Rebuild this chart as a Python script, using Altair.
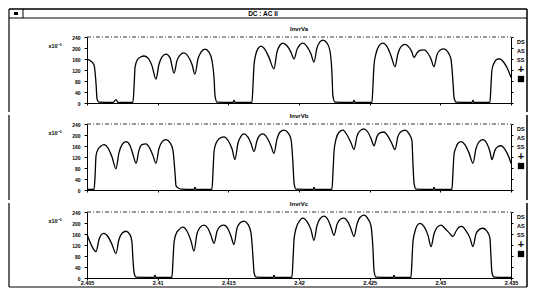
import altair as alt
import pandas as pd

WINDOW_TITLE = "DC : AC II"
PANEL_TITLES = ["InvrVa", "InvrVb", "InvrVc"]
SCALE_NOTE = "x10\u207b\u00b3"
X_TICKS = [2.405, 2.41, 2.415, 2.42, 2.425, 2.43, 2.435]
Y_TICKS = [0, 40, 80, 120, 160, 200, 240]
SIDE_LABELS = ["DS", "AS", "SS"]
T0_MS = 2405.0  # time axis origin, ms

# ---- InvrVa : time offset (ms from 2.405 s) and value (x10^-3)
VA_MS = [0.00, 0.28, 0.50, 0.64, 0.71, 0.85, 1.84, 2.05, 2.19,
         3.25, 3.33, 3.40, 3.54, 3.82, 4.03, 4.32, 4.60, 4.88, 5.09, 5.31, 5.59, 5.87, 6.16, 6.37,
         6.58, 6.86, 7.15, 7.43, 7.64, 7.85, 8.07, 8.35, 8.63, 8.84, 8.99, 9.06, 9.20,
         10.33, 10.40, 10.47,
         11.67, 11.74, 11.82, 11.96, 12.10, 12.31, 12.59, 12.88, 13.23, 13.44, 13.65, 13.87, 14.15,
         14.43, 14.65, 14.86, 15.07, 15.28, 15.57, 15.85, 16.06, 16.27, 16.48, 16.70, 16.98, 17.19,
         17.33, 17.40, 17.55,
         18.82, 18.89, 18.96,
         20.16, 20.23, 20.31, 20.45, 20.66, 20.94, 21.23, 21.51, 21.79, 22.00, 22.22, 22.50, 22.78,
         22.99, 23.14, 23.35, 23.56, 23.84, 24.13, 24.34, 24.55, 24.76, 24.97, 25.26, 25.54, 25.75,
         25.89, 25.97, 26.11,
         27.24, 27.31, 27.38,
         28.51, 28.58, 28.65, 28.80, 28.94, 29.15, 29.43, 29.72, 30.00]
VA_V = [160, 152, 138, 70, 15, 3, 2, 12, 2,
        2, 60, 130, 155, 168, 171, 163, 135, 87, 140, 168, 178, 165, 109, 155,
        174, 182, 170, 140, 105, 160, 185, 196, 185, 155, 90, 25, 3,
        2, 10, 2,
        2, 60, 140, 180, 198, 207, 195, 165, 124, 185, 210, 218, 208,
        185, 160, 195, 212, 218, 205, 178, 149, 200, 222, 229, 218, 190,
        110, 25, 3,
        2, 10, 2,
        2, 60, 140, 180, 208, 218, 205, 172, 132, 180, 205, 213, 203,
        185, 165, 182, 191, 193, 180, 160, 132, 175, 192, 197, 185, 160,
        80, 20, 3,
        2, 10, 2,
        2, 60, 120, 145, 156, 161, 152, 128, 93]

# ---- InvrVb
VB_MS = [0.00, 0.50, 0.57, 0.64, 0.78, 0.99, 1.20, 1.49, 1.77, 2.05, 2.26, 2.48, 2.76, 3.04, 3.25,
         3.47, 3.68, 3.89, 4.17, 4.46, 4.67, 4.88, 5.09, 5.31, 5.59, 5.87, 6.08, 6.23, 6.30, 6.44, 6.65,
         7.57, 7.64, 7.71,
         8.84, 8.91, 8.99, 9.13, 9.34, 9.69, 9.98, 10.26, 10.47, 10.68, 10.90, 11.11, 11.39, 11.60,
         11.82, 12.03, 12.24, 12.45, 12.74, 13.02, 13.23, 13.44, 13.65, 13.94, 14.22, 14.43, 14.57,
         14.65, 14.79,
         15.99, 16.06, 16.13,
         17.33, 17.40, 17.48, 17.62, 17.83, 18.11, 18.40, 18.68, 18.89, 19.10, 19.31, 19.60, 19.88,
         20.09, 20.31, 20.52, 20.73, 21.01, 21.30, 21.58, 21.79, 22.00, 22.22, 22.50, 22.78, 22.99,
         23.06, 23.14, 23.28,
         24.48, 24.55, 24.62,
         25.82, 25.89, 25.97, 26.11, 26.25, 26.46, 26.74, 27.03, 27.31, 27.52, 27.74, 28.02, 28.30,
         28.51, 28.65, 28.87, 29.08, 29.29, 29.57, 29.86, 30.00]
VB_V = [2, 2, 50, 125, 148, 160, 165, 152, 120, 77, 135, 165, 176, 162, 130,
        97, 145, 165, 168, 150, 125, 97, 150, 175, 183, 172, 145, 60, 15, 8, 3,
        2, 10, 2,
        2, 60, 140, 170, 186, 193, 180, 150, 111, 170, 196, 204, 192, 170,
        140, 180, 200, 204, 190, 160, 133, 185, 210, 218, 208, 185, 100,
        25, 3,
        2, 10, 2,
        2, 60, 140, 185, 210, 218, 200, 172, 147, 195, 215, 222, 210,
        188, 161, 195, 208, 211, 195, 168, 147, 195, 212, 218, 205, 180,
        100, 25, 3,
        2, 10, 2,
        2, 60, 130, 155, 170, 176, 165, 135, 97, 150, 175, 183, 168,
        140, 111, 145, 158, 161, 148, 118, 97]

# ---- InvrVc
VC_MS = [0.00, 0.14, 0.35, 0.64, 0.85, 0.99, 1.20, 1.49, 1.77, 2.05, 2.26, 2.48, 2.76, 3.04, 3.18,
         3.25, 3.33, 3.47,
         4.74, 4.81, 4.88,
         6.01, 6.08, 6.16, 6.30, 6.51, 6.79, 7.08, 7.36, 7.57, 7.78, 7.99, 8.28, 8.56, 8.77, 8.99,
         9.20, 9.41, 9.69, 9.98, 10.19, 10.40, 10.61, 10.82, 11.11, 11.39, 11.60, 11.74, 11.82, 11.96,
         13.16, 13.23, 13.30,
         14.50, 14.57, 14.65, 14.79, 15.00, 15.28, 15.57, 15.85, 16.06, 16.27, 16.48, 16.77, 17.05,
         17.26, 17.48, 17.69, 17.90, 18.18, 18.47, 18.68, 18.89, 19.10, 19.31, 19.60, 19.88, 20.09,
         20.23, 20.31, 20.45,
         21.65, 21.72, 21.79,
         22.92, 22.99, 23.06, 23.21, 23.35, 23.56, 23.84, 24.13, 24.34, 24.55, 24.76, 25.05, 25.33,
         25.61, 25.89, 26.11, 26.32, 26.53, 26.81, 27.10, 27.31, 27.52, 27.74, 28.02, 28.30, 28.51,
         28.58, 28.65, 28.80,
         30.00]
VC_V = [159, 140, 115, 96, 140, 156, 162, 150, 122, 89, 140, 163, 170, 158, 130,
        70, 20, 3,
        2, 10, 2,
        2, 60, 130, 160, 176, 185, 170, 135, 98, 160, 183, 192, 180, 155, 126,
        170, 187, 192, 178, 152, 122, 180, 200, 207, 195, 165, 80, 20, 3,
        2, 10, 2,
        2, 60, 140, 180, 205, 218, 205, 175, 137, 190, 215, 225, 212,
        185, 155, 195, 213, 218, 203, 178, 151, 195, 220, 229, 215, 190,
        110, 25, 3,
        2, 10, 2,
        2, 60, 130, 170, 190, 199, 188, 155, 114, 160, 183, 192, 180,
        165, 151, 170, 185, 188, 172, 145, 114, 160, 176, 181, 170, 145,
        80, 20, 3,
        2]

SERIES = [(VA_MS, VA_V), (VB_MS, VB_V), (VC_MS, VC_V)]

W, H = 424, 66
FONT = "Liberation Sans"
ONE = pd.DataFrame({"k": [0]})
FRAME_L, FRAME_R = -78, 440


def rule(x, y, x2=None, y2=None, width=1.0, color="black", dash=None):
    enc = {"x": alt.value(x), "y": alt.value(y)}
    if x2 is not None:
        enc["x2"] = alt.value(x2)
    if y2 is not None:
        enc["y2"] = alt.value(y2)
    kw = {"color": color, "strokeWidth": width}
    if dash is not None:
        kw["strokeDash"] = dash
    return alt.Chart(ONE).mark_rule(**kw).encode(**enc)


def text(s, x, y, size=5.5, align="center", weight="bold"):
    return alt.Chart(ONE).mark_text(font=FONT, fontSize=size, fontWeight=weight, align=align,
                                    baseline="middle", color="black").encode(
        x=alt.value(x), y=alt.value(y), text=alt.value(s))


def panel(idx):
    ms, vals = SERIES[idx]
    last = idx == 2
    df = pd.DataFrame({"t": [(T0_MS + m) / 1000.0 for m in ms], "v": vals})
    xs = alt.Scale(domain=[2.405, 2.435], nice=False, zero=False)
    ys = alt.Scale(domain=[0, 240], nice=False)
    x_axis = alt.Axis(values=X_TICKS, format=".3~f", labels=last, title=None, tickSize=2,
                      labelPadding=0, labelFont=FONT, labelFontSize=5.5, labelFontWeight="bold",
                      labelColor="black", domainColor="black", tickColor="black", grid=False,
                      labelFlush=False)
    y_axis = alt.Axis(values=Y_TICKS, title=None, tickSize=3, labelPadding=4, labelFont=FONT,
                      labelFontSize=5, labelFontWeight="bold", labelColor="black",
                      domainColor="black", tickColor="black", grid=False)
    line = alt.Chart(df).mark_line(color="black", strokeWidth=1.3, interpolate="monotone").encode(
        x=alt.X("t:Q", scale=xs, axis=x_axis),
        y=alt.Y("v:Q", scale=ys, axis=y_axis),
    )
    right = alt.Chart(pd.DataFrame({"v": [0, 240]})).mark_point(opacity=0).encode(
        y=alt.Y("v:Q", scale=ys, axis=alt.Axis(orient="right", values=Y_TICKS, labels=False,
                                               title=None, tickSize=2, domainColor="black",
                                               tickColor="black", grid=False))
    )
    layers = [line, right,
              rule(0, 0, x2=W, width=0.9, color="#222", dash=[4, 2, 1, 2]),
              text(PANEL_TITLES[idx], W / 2, -8, size=6),
              text(SCALE_NOTE, -32, 9, size=5.5)]
    # side controls
    for j, lab in enumerate(SIDE_LABELS):
        layers.append(text(lab, 430, 5 + 9 * j, size=5.5, align="left"))
    layers.append(text("+", 434, 33, size=11))
    layers.append(alt.Chart(ONE).mark_point(shape="square", filled=True, size=40, color="black",
                                            opacity=1).encode(x=alt.value(434), y=alt.value(42)))
    # window frame pieces
    if idx == 0:
        top, bot = -28, H + 9
        layers += [rule(FRAME_L, top, x2=FRAME_R, width=1.5),
                   rule(FRAME_L, -19, x2=FRAME_R, width=1),
                   rule(-64, top, y2=-19, width=1),
                   alt.Chart(ONE).mark_rect(color="black").encode(
                       x=alt.value(-73), x2=alt.value(-69), y=alt.value(-25), y2=alt.value(-22)),
                   text(WINDOW_TITLE, 176, -23.5, size=6.5)]
    elif idx == 1:
        top, bot = -9, H + 10
    else:
        top, bot = -9, H + 9
        layers.append(rule(FRAME_L, bot, x2=FRAME_R, width=1))
    layers += [rule(FRAME_L, top, y2=bot, width=1.2), rule(FRAME_R, top, y2=bot, width=1.5)]
    return alt.layer(*layers).resolve_axis(y="independent").properties(width=W, height=H)


chart = alt.vconcat(panel(0), panel(1), panel(2), spacing=0).properties(
    padding=0, background="white"
).configure_view(stroke=None)

chart.save("out.html", embed_options={"renderer": "svg", "actions": False})
